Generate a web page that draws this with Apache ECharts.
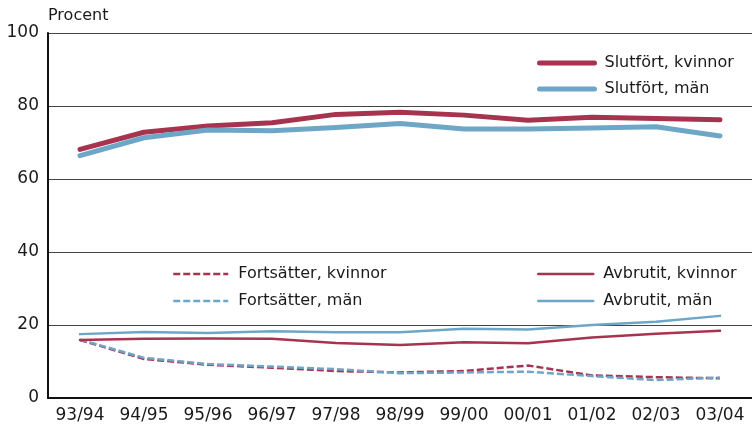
<!DOCTYPE html>
<html><head><meta charset="utf-8">
<script src="https://cdn.jsdelivr.net/npm/echarts@6/dist/echarts.min.js"></script>
<style>html,body{margin:0;padding:0;background:#fff}#c{width:752px;height:429px}</style>
</head><body><div id="c"></div>
<script>
var categories = ['93/94','94/95','95/96','96/97','97/98','98/99','99/00','00/01','01/02','02/03','03/04'];
var slutfortKvinnor = [68.1, 72.8, 74.5, 75.4, 77.7, 78.3, 77.5, 76.1, 76.9, 76.6, 76.2];
var slutfortMan     = [66.4, 71.3, 73.4, 73.2, 74.1, 75.2, 73.7, 73.7, 74.0, 74.3, 71.8];
var fortsatterKvinnor = [15.9, 10.7, 9.1, 8.3, 7.4, 7.0, 7.4, 8.9, 6.2, 5.7, 5.4];
var fortsatterMan     = [16.0, 11.0, 9.3, 8.6, 7.9, 6.8, 7.0, 7.2, 6.0, 4.9, 5.6];
var avbrutitKvinnor = [15.9, 16.2, 16.3, 16.2, 15.1, 14.5, 15.3, 15.0, 16.6, 17.6, 18.4];
var avbrutitMan     = [17.5, 18.1, 17.8, 18.3, 18.0, 18.0, 19.0, 18.8, 20.0, 20.9, 22.5];
var yTicks = [0, 20, 40, 60, 80, 100];

var RED = '#a6344f', BLUE = '#6ea6c7';
var FONT = 'DejaVu Sans';
var chart = echarts.init(document.getElementById('c'));
function ser(name, data, color, width, dashed) {
  return {
    name: name, type: 'line', data: data, symbol: 'none', smooth: false,
    lineStyle: { color: color, width: width, type: dashed ? [7, 3] : 'solid', cap: dashed ? 'butt' : 'round', join: 'round' },
    itemStyle: { color: color }, emphasis: { disabled: true }, animation: false
  };
}
function leg(names, left, top, gap) {
  return {
    data: names, orient: 'vertical', left: left, top: top, itemWidth: 55, itemHeight: 14, itemGap: gap,
    selectedMode: false,
    itemStyle: { opacity: 0 },
    lineStyle: { width: 'inherit', type: 'inherit', cap: 'inherit' },
    textStyle: { fontFamily: FONT, fontSize: 16, color: '#1a1a1a', padding: [0, 0, 0, 5] }
  };
}
chart.setOption({
  animation: false,
  textStyle: { fontFamily: FONT },
  grid: { left: 48, top: 33, bottom: 31, width: 712 },
  legend: [
    leg(['Slutfört, kvinnor', 'Slutfört, män'], 532, 50, 10),
    leg(['Fortsätter, kvinnor', 'Fortsätter, män'], 167, 261, 11),
    leg(['Avbrutit, kvinnor', 'Avbrutit, män'], 532, 261, 11)
  ],
  xAxis: {
    type: 'category', data: categories, boundaryGap: true,
    axisLine: { lineStyle: { color: '#111', width: 2 } },
    axisTick: { show: false },
    axisLabel: { fontFamily: FONT, fontSize: 17, color: '#1a1a1a', margin: 9 }
  },
  yAxis: {
    type: 'value', min: 0, max: 100, interval: 20,
    name: 'Procent', nameLocation: 'end', nameGap: 9,
    nameTextStyle: { fontFamily: FONT, fontSize: 16, color: '#1a1a1a', align: 'left', verticalAlign: 'bottom' },
    axisLine: { show: true, lineStyle: { color: '#111', width: 2 } },
    axisTick: { show: false },
    axisLabel: { fontFamily: FONT, fontSize: 17, color: '#1a1a1a', margin: 9,
      formatter: function (v) { return yTicks.indexOf(v) >= 0 ? String(v) : ''; } },
    splitLine: { lineStyle: { color: '#444', width: 1 } }
  },
  series: [
    ser('Slutfört, kvinnor', slutfortKvinnor, RED, 5, false),
    ser('Slutfört, män', slutfortMan, BLUE, 5, false),
    ser('Fortsätter, kvinnor', fortsatterKvinnor, RED, 2.5, true),
    ser('Fortsätter, män', fortsatterMan, BLUE, 2.5, true),
    ser('Avbrutit, kvinnor', avbrutitKvinnor, RED, 2.5, false),
    ser('Avbrutit, män', avbrutitMan, BLUE, 2.5, false)
  ]
});
</script></body></html>
